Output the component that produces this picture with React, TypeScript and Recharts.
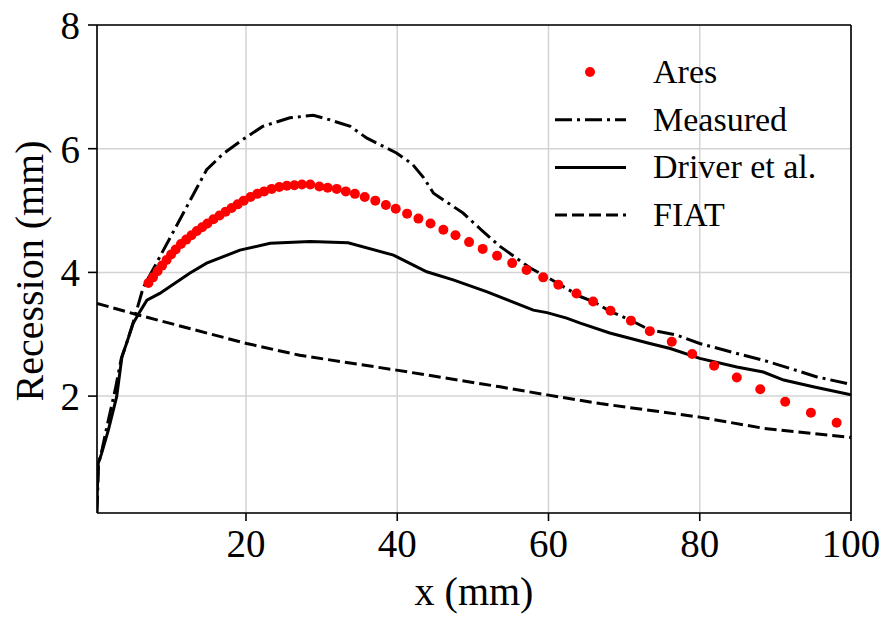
import {
  LineChart,
  Line,
  XAxis,
  YAxis,
  CartesianGrid,
  ReferenceLine,
  Legend,
  Label,
} from "recharts";

// Ares (red markers)
const aresX = [
  7.1, 7.7, 8.3, 8.9, 9.5, 10.1, 10.7, 11.4, 12.1, 12.8, 13.5, 14.2, 14.9, 15.7, 16.5, 17.3,
  18.1, 18.9, 19.7, 20.6, 21.5, 22.4, 23.4, 24.4, 25.4, 26.4, 27.4, 28.5, 29.7, 30.8, 32.0,
  33.2, 34.4, 35.7, 37.1, 38.5, 39.8, 41.3, 42.8, 44.4, 46.1, 47.7, 49.5, 51.3, 53.2, 55.2,
  57.1, 59.3, 61.3, 63.7, 65.9, 68.2, 70.9, 73.4, 76.3, 79.0, 81.9, 84.9, 88.0, 91.3, 94.7, 98.1,
];
const aresY = [
  3.83, 3.92, 4.02, 4.11, 4.2, 4.29, 4.37, 4.46, 4.53, 4.6, 4.67, 4.73, 4.79, 4.86, 4.92, 4.98,
  5.04, 5.1, 5.16, 5.22, 5.27, 5.31, 5.35, 5.38, 5.4, 5.41, 5.42, 5.42, 5.39, 5.37, 5.35,
  5.31, 5.27, 5.22, 5.16, 5.09, 5.03, 4.95, 4.87, 4.79, 4.69, 4.6, 4.49, 4.38, 4.27, 4.15,
  4.04, 3.92, 3.8, 3.66, 3.53, 3.38, 3.22, 3.05, 2.88, 2.68, 2.49, 2.3, 2.11, 1.91, 1.73, 1.57,
];

// Measured (dash-dot)
const measuredX = [
  0.3, 0.5, 1.0, 1.6, 2.7, 3.5, 4.2, 5.1, 6.4, 14.8, 17.0, 19.6, 22.2, 25.8, 28.9, 31.0, 33.8,
  36.0, 39.9, 42.0, 43.5, 44.8, 48.7, 51.0, 53.6, 57.6, 60.0, 64.2, 65.9, 68.0, 70.8, 73.4,
  76.9, 80.0, 84.9, 88.4, 91.9, 95.5, 100,
];
const measuredY = [
  0.12, 0.9, 1.15, 1.5, 2.1, 2.6, 2.85, 3.2, 3.75, 5.66, 5.92, 6.15, 6.36, 6.5, 6.54, 6.47, 6.36,
  6.17, 5.93, 5.75, 5.53, 5.28, 4.96, 4.7, 4.42, 4.07, 3.91, 3.61, 3.53, 3.38, 3.23, 3.07,
  2.99, 2.85, 2.69, 2.58, 2.45, 2.31, 2.19,
];

// Driver et al. (solid)
const driverX = [
  0.25, 0.46, 0.9, 1.8, 2.9, 3.6, 4.2, 5.1, 6.0, 6.9, 8.6, 12.6, 14.8, 19.2, 23.2, 28.5, 33.5,
  39.5, 43.9, 47.4, 51.8, 58.0, 59.8, 62.4, 64.2, 68.1, 73.4, 76.1, 80.0, 84.9, 88.4, 91.1, 95.0, 100,
];
const driverY = [
  0.12, 0.91, 1.07, 1.45, 1.99, 2.64, 2.85, 3.18, 3.37, 3.55, 3.66, 3.99, 4.15, 4.36, 4.47, 4.5, 4.48,
  4.28, 4.01, 3.88, 3.69, 3.39, 3.35, 3.26, 3.18, 3.02, 2.85, 2.77, 2.61, 2.47, 2.39, 2.26, 2.15, 2.02,
];

// FIAT (dashed)
const fiatX = [0.3, 5.5, 20.1, 27.1, 39.9, 53.6, 59.8, 66.8, 80.0, 88.4, 100];
const fiatY = [3.5, 3.32, 2.85, 2.66, 2.42, 2.15, 2.02, 1.88, 1.66, 1.48, 1.33];

const xTicks = [20, 40, 60, 80, 100];
const yTicks = [2, 4, 6, 8];

const toPoints = (xs: number[], ys: number[]) => xs.map((x, i) => ({ x, y: ys[i] }));

const FONT = '"Liberation Serif", "Times New Roman", serif';
const DASHDOT = "17 5 3 5";
const DASHED = "12 5";

function LegendBox() {
  const rows = [
    { name: "Ares", kind: "dot" },
    { name: "Measured", kind: DASHDOT },
    { name: "Driver et al.", kind: "" },
    { name: "FIAT", kind: DASHED },
  ];
  return (
    <svg width={300} height={200}>
      {rows.map((r, i) => {
        const cy = 27 + i * 47.7;
        return (
          <g key={r.name}>
            {r.kind === "dot" ? (
              <circle cx={40} cy={cy} r={5} fill="#ff0000" />
            ) : (
              <line
                x1={5}
                x2={76}
                y1={cy}
                y2={cy}
                stroke="#000"
                strokeWidth={3}
                strokeDasharray={r.kind || undefined}
              />
            )}
            <text x={103} y={cy + 11} fontSize={34} fontFamily={FONT} fill="#000">
              {r.name}
            </text>
          </g>
        );
      })}
    </svg>
  );
}

export default function App() {
  const axisStyle = { stroke: "#000", strokeWidth: 1.6 };
  const tickStyle = { fill: "#000", fontSize: 39, fontFamily: FONT };
  return (
    <div style={{ width: 887, height: 618, background: "#fff" }}>
      <style>{"body{margin:0}"}</style>
      <LineChart width={887} height={618} margin={{ top: 25, right: 36, left: 0, bottom: 0 }}>
        <CartesianGrid stroke="#d3d3d3" strokeWidth={1.5} />
        <XAxis
          type="number"
          dataKey="x"
          domain={[0.3, 100]}
          allowDataOverflow
          ticks={xTicks}
          height={105}
          tickSize={8}
          tickMargin={8}
          axisLine={axisStyle}
          tickLine={axisStyle}
          tick={tickStyle}
        >
          <Label
            content={() => (
              <text x={474} y={605} textAnchor="middle" fontSize={40} fontFamily={FONT} fill="#000">
                x (mm)
              </text>
            )}
          />
        </XAxis>
        <YAxis
          type="number"
          domain={[0.11, 8]}
          allowDataOverflow
          ticks={yTicks}
          width={97}
          tickSize={9}
          tickMargin={8}
          axisLine={axisStyle}
          tickLine={axisStyle}
          tick={tickStyle}
        >
          <Label
            content={() => (
              <text
                x={43}
                y={271}
                transform="rotate(-90, 43, 271)"
                textAnchor="middle"
                fontSize={40}
                fontFamily={FONT}
                fill="#000"
              >
                Recession (mm)
              </text>
            )}
          />
        </YAxis>
        <ReferenceLine y={8} stroke="#000" strokeWidth={1.6} />
        <ReferenceLine x={100} stroke="#000" strokeWidth={1.6} />
        <Line
          data={toPoints(aresX, aresY)}
          dataKey="y"
          stroke="none"
          dot={{ r: 5, fill: "#ff0000", stroke: "none" }}
          activeDot={false}
          isAnimationActive={false}
        />
        <Line
          data={toPoints(measuredX, measuredY)}
          dataKey="y"
          type="linear"
          stroke="#000"
          strokeWidth={3}
          strokeDasharray={DASHDOT}
          dot={false}
          activeDot={false}
          isAnimationActive={false}
        />
        <Line
          data={toPoints(driverX, driverY)}
          dataKey="y"
          type="linear"
          stroke="#000"
          strokeWidth={3}
          dot={false}
          activeDot={false}
          isAnimationActive={false}
        />
        <Line
          data={toPoints(fiatX, fiatY)}
          dataKey="y"
          type="linear"
          stroke="#000"
          strokeWidth={3}
          strokeDasharray={DASHED}
          dot={false}
          activeDot={false}
          isAnimationActive={false}
        />
        <Legend
          layout="horizontal"
          verticalAlign="middle"
          align="center"
          content={() => <LegendBox />}
          wrapperStyle={{ left: 550, top: 45, width: 300, height: 200 }}
        />
      </LineChart>
    </div>
  );
}
